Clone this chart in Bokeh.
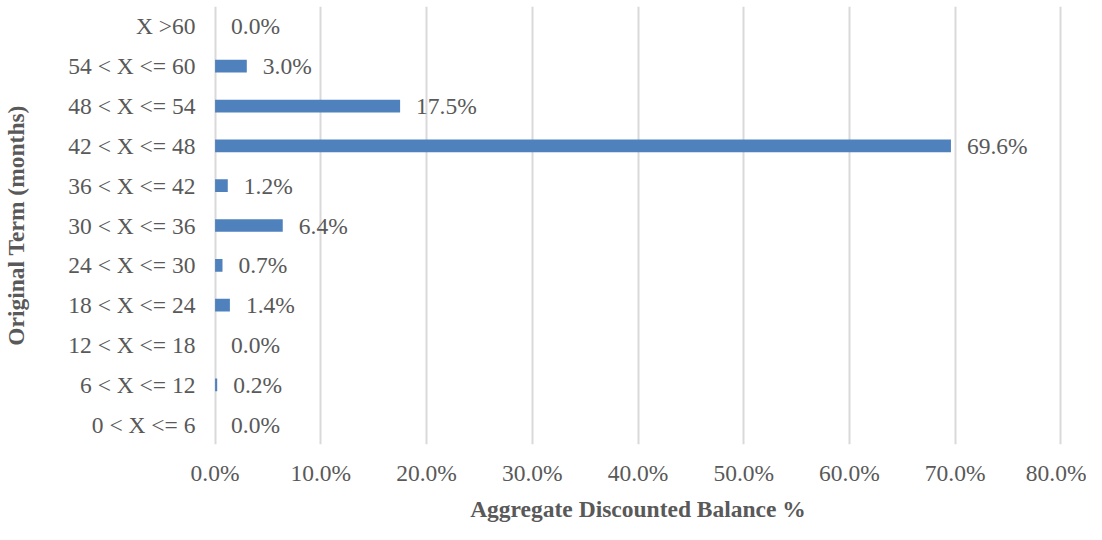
from bokeh.plotting import figure
from bokeh.models import FixedTicker, PrintfTickFormatter, ColumnDataSource, FactorRange, Range1d
from bokeh.core.properties import value
from bokeh.embed import file_html
from bokeh.resources import INLINE

categories = ["0 < X <= 6", "6 < X <= 12", "12 < X <= 18", "18 < X <= 24", "24 < X <= 30",
              "30 < X <= 36", "36 < X <= 42", "42 < X <= 48", "48 < X <= 54", "54 < X <= 60", "X >60"]
values = [0.0, 0.2, 0.0, 1.4, 0.7, 6.4, 1.2, 69.6, 17.5, 3.0, 0.0]
x_ticks = [0, 10, 20, 30, 40, 50, 60, 70, 80]

FONT = "Liberation Serif"
TXT = "#595959"
FS = "23.5px"

src = ColumnDataSource(dict(cat=categories, val=values, lab=["%.1f%%" % v for v in values]))

p = figure(width=1086, height=524, output_backend="svg", toolbar_location=None,
           y_range=FactorRange(*categories, range_padding=0), x_range=Range1d(-0.15, 80.15),
           min_border_left=210, min_border_right=24, min_border_top=6, min_border_bottom=50)

p.hbar(y="cat", right="val", left=0, height=0.32, source=src, color="#4F81BD", line_color=None)
p.text(x="val", y="cat", text="lab", source=src, x_offset=16, text_align="left", text_baseline="middle",
       text_font=value(FONT), text_font_size=FS, text_color=TXT)

p.outline_line_color = None
p.ygrid.grid_line_color = None
p.xgrid.grid_line_color = "#D9D9D9"
p.xgrid.grid_line_width = 2
p.xaxis.ticker = FixedTicker(ticks=x_ticks)
p.xaxis.formatter = PrintfTickFormatter(format="%.1f%%")

for ax in (p.xaxis[0], p.yaxis[0]):
    ax.axis_line_color = None
    ax.major_tick_line_color = None
    ax.minor_tick_line_color = None
    ax.major_label_text_font = FONT
    ax.major_label_text_font_size = FS
    ax.major_label_text_color = TXT
    ax.axis_label_text_font = FONT
    ax.axis_label_text_font_size = FS
    ax.axis_label_text_font_style = "bold"
    ax.axis_label_text_color = TXT

p.xaxis.axis_label = "Aggregate Discounted Balance %"
p.yaxis.axis_label = "Original Term (months)"
p.xaxis.major_label_standoff = 9
p.xaxis.axis_label_standoff = 7
p.yaxis.major_label_standoff = 12
p.yaxis.axis_label_standoff = 36

open("out.html", "w").write(file_html(p, INLINE))
